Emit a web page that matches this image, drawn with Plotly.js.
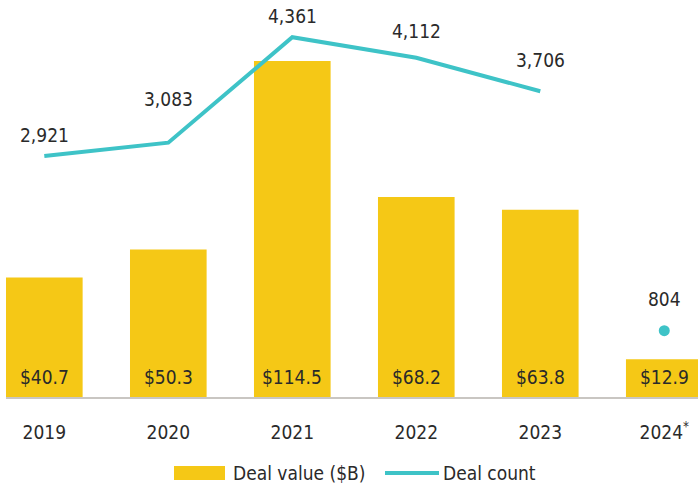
<!DOCTYPE html>
<html>
<head>
<meta charset="utf-8">
<script src="https://cdn.plot.ly/plotly-3.0.1.min.js"></script>
<style>html,body{margin:0;padding:0;background:#fff;}#chart{width:698px;height:486px;}</style>
</head>
<body>
<div id="chart"></div>
<script>
const years = ["2019", "2020", "2021", "2022", "2023", "2024*"];
const yearLabels = ["2019", "2020", "2021", "2022", "2023", "2024<sup>*</sup>"];
const dealValue = [40.7, 50.3, 114.5, 68.2, 63.8, 12.9];
const dealValueLabels = ["$40.7", "$50.3", "$114.5", "$68.2", "$63.8", "$12.9"];
const dealCount = [2921, 3083, 4361, 4112, 3706, 804];
const dealCountLabels = ["2,921", "3,083", "4,361", "4,112", "3,706", "804"];

// styling (label offsets in px above each point)
const countLabelShift = [21, 44, 21, 27, 31, 32];
const FONT = "DejaVu Sans Condensed, DejaVu Sans, sans-serif";
const FS = 19;
const YELLOW = "#F5C816";
const TEAL = "#3EC3C7";
const TXT = "#2a2a2a";
const mkFont = (size) => ({family: FONT, size: size, color: TXT, stretch: "condensed"});

const traces = [
  {
    type: "bar", x: years, y: dealValue, name: "Deal value ($B)",
    marker: {color: YELLOW}, hoverinfo: "skip", showlegend: false
  },
  {
    type: "scatter", mode: "lines", x: years.slice(0, 5), y: dealCount.slice(0, 5),
    yaxis: "y2", line: {color: TEAL, width: 4}, name: "Deal count",
    hoverinfo: "skip", showlegend: false, cliponaxis: false
  },
  {
    type: "scatter", mode: "markers", x: years.slice(5), y: dealCount.slice(5),
    yaxis: "y2", marker: {color: TEAL, size: 11}, hoverinfo: "skip",
    showlegend: false, cliponaxis: false
  }
];

const annotations = [];
years.forEach((yr, i) => {
  annotations.push({
    x: i, y: 0, xref: "x", yref: "y", text: dealValueLabels[i],
    showarrow: false, yanchor: "middle", yshift: 20,
    font: mkFont(FS)
  });
  annotations.push({
    x: i, y: dealCount[i], xref: "x", yref: "y2", text: dealCountLabels[i],
    showarrow: false, yanchor: "middle", yshift: countLabelShift[i],
    font: mkFont(FS)
  });
});

const L = 6, R = 0, T = 0, B = 89, W = 698, H = 486;
const pw = W - L - R, ph = H - T - B;
const px2x = p => (p - L) / pw;
const px2y = p => (H - B - p) / ph;

// custom legend
annotations.push({
  x: px2x(231), y: px2y(473), xref: "paper", yref: "paper", text: "Deal value ($B)",
  showarrow: false, xanchor: "left", yanchor: "middle", font: mkFont(FS)
});
annotations.push({
  x: px2x(441), y: px2y(473), xref: "paper", yref: "paper", text: "Deal count",
  showarrow: false, xanchor: "left", yanchor: "middle", font: mkFont(FS)
});

const shapes = [
  {type: "rect", xref: "paper", yref: "paper", x0: px2x(174), x1: px2x(225),
   y0: px2y(480), y1: px2y(466), fillcolor: YELLOW, line: {width: 0}},
  {type: "line", xref: "paper", yref: "paper", x0: px2x(385), x1: px2x(439),
   y0: px2y(473), y1: px2y(473), line: {color: TEAL, width: 4}}
];

const layout = {
  width: W, height: H,
  margin: {l: L, r: R, t: T, b: B, pad: 0},
  paper_bgcolor: "#fff", plot_bgcolor: "#fff",
  showlegend: false,
  bargap: 0.382,
  font: mkFont(FS),
  xaxis: {
    type: "category", range: [-0.309, 5.272],
    tickvals: years, ticktext: yearLabels,
    showline: true, linecolor: "#c9c6c2", linewidth: 1.5,
    showgrid: false, zeroline: false, ticks: "",
    ticklabelstandoff: 18,
    tickfont: mkFont(FS)
  },
  yaxis: {range: [0, 135.3], visible: false, showgrid: false, zeroline: false, fixedrange: true},
  yaxis2: {range: [0, 4812], overlaying: "y", side: "right", visible: false,
           showgrid: false, zeroline: false},
  annotations: annotations,
  shapes: shapes
};

Plotly.newPlot("chart", traces, layout, {displayModeBar: false, staticPlot: true});
</script>
</body>
</html>
